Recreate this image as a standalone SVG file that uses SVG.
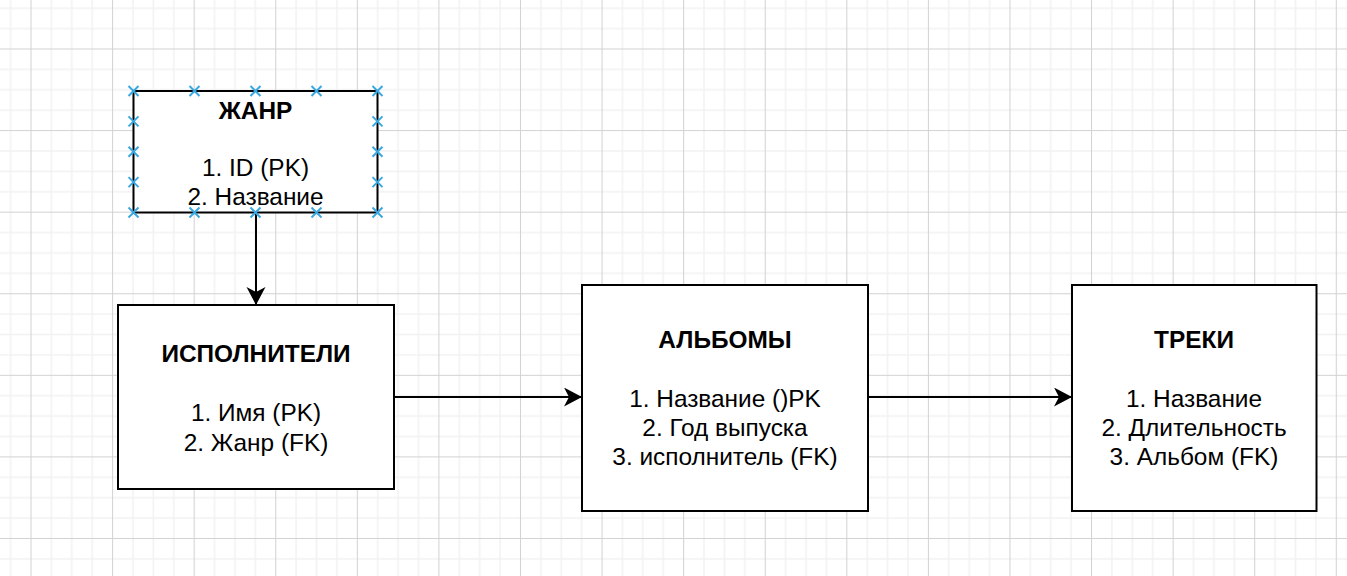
<svg xmlns="http://www.w3.org/2000/svg" width="1347" height="576" viewBox="0 0 1347 576">
<style>
.box{fill:#fff;stroke:#000;stroke-width:2}
.t{font-family:"Liberation Sans",Arial,sans-serif;font-size:24.4px;fill:#000;text-anchor:middle;dominant-baseline:central}
.b{font-weight:bold}
.edge{fill:none;stroke:#000;stroke-width:2}
.x{stroke:#3aa8e0;stroke-width:2;fill:none}
</style>
<defs>
<pattern id="grid" patternUnits="userSpaceOnUse" x="30.5" y="48.5" width="81.58" height="81.58">
<rect width="81.58" height="81.58" fill="#fff"/>
<g stroke="#f2f2f2" stroke-width="1.5">
<line x1="20.9" y1="0" x2="20.9" y2="81.58"/>
<line x1="41.3" y1="0" x2="41.3" y2="81.58"/>
<line x1="61.7" y1="0" x2="61.7" y2="81.58"/>
<line x1="0" y1="20.9" x2="81.58" y2="20.9"/>
<line x1="0" y1="41.3" x2="81.58" y2="41.3"/>
<line x1="0" y1="61.7" x2="81.58" y2="61.7"/>
</g>
<g stroke="#d2d2d2" stroke-width="1">
<line x1="0.5" y1="0" x2="0.5" y2="81.58"/>
<line x1="0" y1="0.5" x2="81.58" y2="0.5"/>
</g>
</pattern>
<marker id="arr" markerUnits="userSpaceOnUse" markerWidth="20" markerHeight="20" refX="18" refY="9.5" orient="auto" viewBox="0 0 20 20">
<path d="M0,0 L18,9.5 L0,19 L5,9.5 Z" fill="#000"/>
</marker>
<path id="xm" d="M-5,-5 L5,5 M-5,5 L5,-5"/>
</defs>
<rect width="1347" height="576" fill="url(#grid)"/>
<g id="connectors">
<path class="edge" d="M256,213 L256,305" marker-end="url(#arr)"/>
<path class="edge" d="M394,397 L582,397" marker-end="url(#arr)"/>
<path class="edge" d="M868,397 L1072,397" marker-end="url(#arr)"/>
</g>
<g id="genre">
<rect class="box" x="133.5" y="91" width="244" height="121.5"/>
<text class="t b" x="255.5" y="110">ЖАНР</text>
<text class="t" x="255.5" y="167">1. ID (PK)</text>
<text class="t" x="255.5" y="196">2. Название</text>
<g class="x">
<use href="#xm" x="133.5" y="91"/><use href="#xm" x="194.5" y="91"/><use href="#xm" x="255.5" y="91"/><use href="#xm" x="316.5" y="91"/><use href="#xm" x="377.5" y="91"/>
<use href="#xm" x="133.5" y="212.5"/><use href="#xm" x="194.5" y="212.5"/><use href="#xm" x="255.5" y="212.5"/><use href="#xm" x="316.5" y="212.5"/><use href="#xm" x="377.5" y="212.5"/>
<use href="#xm" x="133.5" y="121.4"/><use href="#xm" x="133.5" y="151.8"/><use href="#xm" x="133.5" y="182.1"/>
<use href="#xm" x="377.5" y="121.4"/><use href="#xm" x="377.5" y="151.8"/><use href="#xm" x="377.5" y="182.1"/>
</g>
</g>
<g id="artists">
<rect class="box" x="118" y="305" width="276" height="184"/>
<text class="t b" x="256" y="353.5">ИСПОЛНИТЕЛИ</text>
<text class="t" x="256" y="412">1. Имя (PK)</text>
<text class="t" x="256" y="442">2. Жанр (FK)</text>
</g>
<g id="albums">
<rect class="box" x="582" y="285" width="286" height="226"/>
<text class="t b" x="725" y="339.5">АЛЬБОМЫ</text>
<text class="t" x="725" y="398">1. Название ()PK</text>
<text class="t" x="725" y="427">2. Год выпуска</text>
<text class="t" x="725" y="456.5">3. исполнитель (FK)</text>
</g>
<g id="tracks">
<rect class="box" x="1072" y="285" width="244.5" height="226"/>
<text class="t b" x="1194" y="339">ТРЕКИ</text>
<text class="t" x="1194" y="398">1. Название</text>
<text class="t" x="1194" y="427">2. Длительность</text>
<text class="t" x="1194" y="456.5">3. Альбом (FK)</text>
</g>
</svg>
